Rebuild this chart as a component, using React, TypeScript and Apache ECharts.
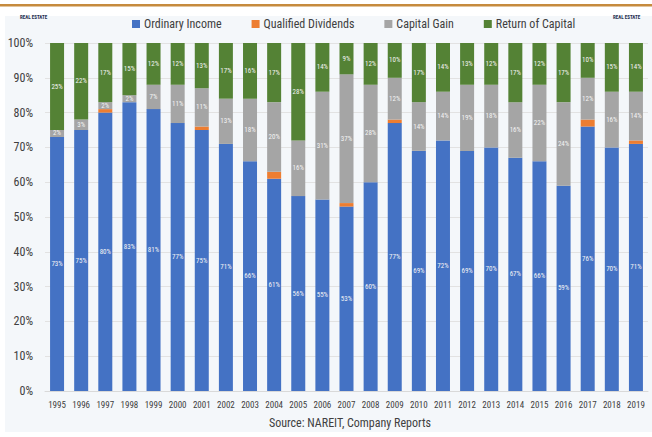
import React, { useEffect, useRef } from "react";
import * as echarts from "echarts";

const years = ["1995","1996","1997","1998","1999","2000","2001","2002","2003","2004","2005","2006","2007","2008","2009","2010","2011","2012","2013","2014","2015","2016","2017","2018","2019"];
const ordinaryIncome = [73,75,80,83,81,77,75,71,66,61,56,55,53,60,77,69,72,69,70,67,66,59,76,70,71];
const qualifiedDividends = [0,0,1,0,0,0,1,0,0,2,0,0,1,0,1,0,0,0,0,0,0,0,2,0,1];
const capitalGain = [2,3,2,2,7,11,11,13,18,20,16,31,37,28,12,14,14,19,18,16,22,24,12,16,14];
const returnOfCapital = [25,22,17,15,12,12,13,17,16,17,28,14,9,12,10,17,14,13,12,17,12,17,10,15,14];
const yTicks = ["0%","10%","20%","30%","40%","50%","60%","70%","80%","90%","100%"];

const FONT = "'Liberation Sans Narrow', 'Roboto Condensed', 'Arial Narrow', 'Liberation Sans', sans-serif";

export default function App() {
  const ref = useRef<HTMLDivElement>(null);
  useEffect(() => {
    if (!ref.current) return;
    const chart = echarts.init(ref.current, null, { renderer: "svg" });
    const lbl = {
      show: true,
      position: "inside" as const,
      color: "#f4f4f4",
      fontSize: 7,
      fontFamily: FONT,
      formatter: (p: any) => (p.value > 0 ? p.value + "%" : ""),
    };
    chart.setOption({
      animation: false,
      backgroundColor: "#ffffff",
      graphic: [
        { type: "rect", shape: { x: 5, y: 16, width: 647, height: 416 }, style: { fill: "#F4F7FA" }, z: -10 },
        { type: "rect", shape: { x: 0, y: 4, width: 652, height: 2.5 }, style: { fill: "#C68B3E" }, z: -10 },
        { type: "text", x: 20, y: 14, style: { text: "REAL ESTATE", fontSize: 5, fontWeight: "bold", fill: "#1F2F4F", fontFamily: FONT } },
        { type: "text", x: 613, y: 14, style: { text: "REAL ESTATE", fontSize: 5, fontWeight: "bold", fill: "#1F2F4F", fontFamily: FONT } },
        { type: "text", x: 350, y: 423, style: { text: "Source: NAREIT, Company Reports", fontSize: 12, fill: "#404040", fontFamily: FONT, align: "center", verticalAlign: "middle" } },
      ],
      legend: {
        top: 13,
        left: 127,
        itemWidth: 8,
        itemHeight: 8,
        itemGap: 30,
        icon: "rect",
        textStyle: { fontSize: 12, color: "#404040", fontFamily: FONT, padding: [0, 0, 0, -1] },
        data: ["Ordinary Income", "Qualified Dividends", "Capital Gain", "Return of Capital"],
      },
      grid: { left: 45, right: 4, top: 43, bottom: 46, containLabel: false },
      xAxis: {
        type: "category",
        data: years,
        axisLine: { lineStyle: { color: "#D9D9D9" } },
        axisTick: { show: false },
        axisLabel: { fontSize: 9, color: "#404040", margin: 9, fontFamily: FONT, interval: 0 },
      },
      yAxis: {
        type: "value",
        min: 0,
        max: 100,
        interval: 10,
        axisLine: { show: false },
        axisTick: { show: false },
        splitLine: { lineStyle: { color: "#E2E2E2" } },
        axisLabel: {
          fontSize: 12,
          color: "#404040",
          margin: 12,
          fontFamily: FONT,
          formatter: (v: number) => yTicks[Math.round(v / 10)] ?? "",
        },
      },
      series: [
        { name: "Ordinary Income", type: "bar", stack: "a", barWidth: 14, data: ordinaryIncome, itemStyle: { color: "#4472C4" }, label: lbl },
        { name: "Qualified Dividends", type: "bar", stack: "a", barWidth: 14, data: qualifiedDividends, itemStyle: { color: "#ED7D31" }, label: { show: false } },
        { name: "Capital Gain", type: "bar", stack: "a", barWidth: 14, data: capitalGain, itemStyle: { color: "#A5A5A5" }, label: lbl },
        { name: "Return of Capital", type: "bar", stack: "a", barWidth: 14, data: returnOfCapital, itemStyle: { color: "#548235" }, label: lbl },
      ],
    });
    return () => chart.dispose();
  }, []);
  return <div ref={ref} style={{ position: "fixed", left: 0, top: 0, width: 652, height: 437 }} />;
}
